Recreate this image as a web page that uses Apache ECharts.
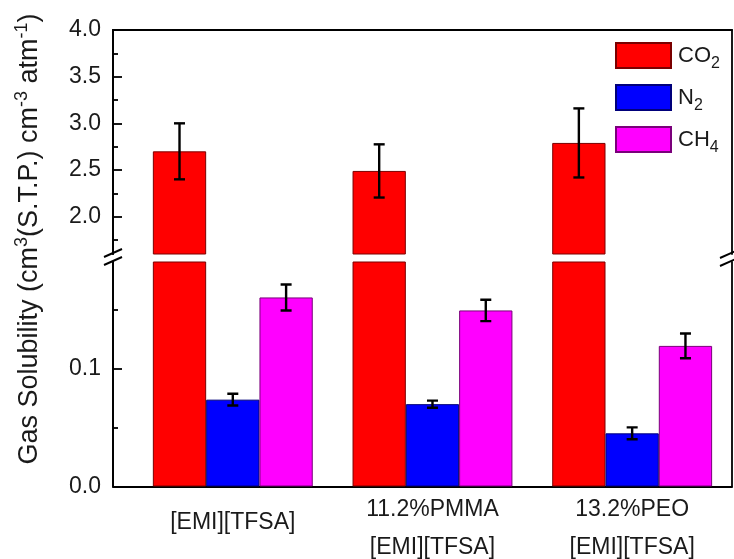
<!DOCTYPE html>
<html>
<head>
<meta charset="utf-8">
<script src="https://cdn.jsdelivr.net/npm/echarts@6/dist/echarts.min.js"></script>
<style>
  html, body { margin: 0; padding: 0; background: #fff; }
  #chart { width: 734px; height: 559px; }
</style>
</head>
<body>
<div id="chart"></div>
<script>
// Sample groups and their positions on the x axis
const categories = ['[EMI][TFSA]', '11.2%PMMA\n[EMI][TFSA]', '13.2%PEO\n[EMI][TFSA]'];
const categoryPos = [1, 2, 3];

// Gas solubility values and standard deviations
const gasNames = ['CO2', 'N2', 'CH4'];
const co2 = [2.70, 2.49, 2.79];
const co2Err = [0.30, 0.285, 0.37];
const n2 = [0.0735, 0.0697, 0.045];
const n2Err = [0.005, 0.003, 0.005];
const ch4 = [0.160, 0.149, 0.119];
const ch4Err = [0.011, 0.009, 0.0105];

// Tick values for the two segments of the broken y axis
const upperMajorTicks = [2.0, 2.5, 3.0, 3.5, 4.0];
const upperMinorTicks = [1.75, 2.25, 2.75, 3.25, 3.75];
const lowerMajorTicks = [0.0, 0.1];
const lowerMinorTicks = [0.05, 0.15];

const colors = ['#ff0000', '#0000ff', '#ff00ff'];
const borders = ['#7a0000', '#00007a', '#7a007a'];
const BAR_W = 53.3;
const FONT = '"Liberation Sans", Arial, sans-serif';
const TXT = '#1a1a1a';

const chart = echarts.init(document.getElementById('chart'), null, { renderer: 'canvas' });

const values = [co2, n2, ch4];
const errors = [co2Err, n2Err, ch4Err];

const gridLeft = 113, gridRight = 2;
const grids = [
  { left: gridLeft, right: gridRight, top: 30, height: 224 },
  { left: gridLeft, right: gridRight, top: 262, bottom: 72 }
];

const axisLine = { show: true, lineStyle: { color: '#000', width: 1.8 } };

const xAxes = [
  { type: 'value', gridIndex: 0, min: 0.4, max: 3.5, position: 'top',
    axisLine, axisTick: { show: false }, axisLabel: { show: false }, splitLine: { show: false } },
  { type: 'value', gridIndex: 1, min: 0.4, max: 3.5, position: 'bottom',
    axisLine, axisTick: { show: false }, splitLine: { show: false },
    axisLabel: {
      customValues: categoryPos, margin: 4, color: TXT, fontFamily: FONT, fontSize: 23,
      formatter: v => {
        const label = categories[categoryPos.indexOf(v)];
        if (!label) return '';
        const lines = label.split('\n');
        return lines.length === 1 ? '{one|' + label + '}' : lines.map(l => '{two|' + l + '}').join('\n');
      },
      rich: {
        one: { fontSize: 23, lineHeight: 65, fontFamily: FONT, color: TXT },
        two: { fontSize: 23, lineHeight: 38, fontFamily: FONT, color: TXT }
      }
    } }
];

function leftAxis(grid, min, max, ticks, labels, len) {
  return {
    type: 'value', gridIndex: grid, min, max, position: 'left',
    axisLine,
    axisTick: { show: true, inside: true, length: len, customValues: ticks, lineStyle: { color: '#000', width: 1.8 } },
    axisLabel: labels ? { customValues: labels, margin: 12, color: TXT, fontFamily: FONT, fontSize: 23,
      formatter: v => v.toFixed(1) } : { show: false },
    splitLine: { show: false }
  };
}
function rightBorder(grid, min, max) {
  return { type: 'value', gridIndex: grid, min, max, position: 'right',
    axisLine, axisTick: { show: false }, axisLabel: { show: false }, splitLine: { show: false } };
}

const yAxes = [
  leftAxis(0, 1.6, 4.0, upperMajorTicks, upperMajorTicks, 9),
  leftAxis(0, 1.6, 4.0, upperMinorTicks, null, 5),
  rightBorder(0, 1.6, 4.0),
  leftAxis(1, 0, 0.19, lowerMajorTicks, lowerMajorTicks, 9),
  leftAxis(1, 0, 0.19, lowerMinorTicks, null, 5),
  rightBorder(1, 0, 0.19)
];

const series = [];
// Bars: every gas is drawn in both segments; each grid clips to its own range
[0, 1].forEach(g => {
  gasNames.forEach((name, k) => {
    series.push({
      type: 'bar', name, xAxisIndex: g, yAxisIndex: g === 0 ? 0 : 3,
      barWidth: BAR_W, barGap: '0%',
      itemStyle: { color: colors[k], borderColor: borders[k], borderWidth: 1 },
      data: categoryPos.map((x, i) => [x, values[k][i]]),
      clip: true
    });
  });
});

// Error bars (mean ± sd) on top of each bar
[0, 1].forEach(g => {
  gasNames.forEach((name, k) => {
    series.push({
      type: 'custom', name: name + ' sd', xAxisIndex: g, yAxisIndex: g === 0 ? 0 : 3,
      clip: true, z: 5,
      data: categoryPos.map((x, i) => [x, values[k][i] - errors[k][i], values[k][i] + errors[k][i]]),
      renderItem(params, api) {
        const lo = api.coord([api.value(0), api.value(1)]);
        const hi = api.coord([api.value(0), api.value(2)]);
        const x = lo[0] + (k - 1) * BAR_W;
        const cap = 5.5;
        const st = { stroke: '#000', lineWidth: 2.4 };
        return {
          type: 'group',
          children: [
            { type: 'line', shape: { x1: x, y1: hi[1], x2: x, y2: lo[1] }, style: st },
            { type: 'line', shape: { x1: x - cap, y1: hi[1], x2: x + cap, y2: hi[1] }, style: st },
            { type: 'line', shape: { x1: x - cap, y1: lo[1], x2: x + cap, y2: lo[1] }, style: st }
          ]
        };
      }
    });
  });
});

// Axis-break marks on the left and right frame edges
function breakMark(cx, cy) {
  return [-4, 4].map(d => ({
    type: 'line', z: 100,
    shape: { x1: cx - 9, y1: cy + d + 4, x2: cx + 9, y2: cy + d - 4 },
    style: { stroke: '#000', lineWidth: 2 }
  }));
}

const option = {
  animation: false,
  backgroundColor: '#fff',
  grid: grids,
  xAxis: xAxes,
  yAxis: yAxes,
  legend: {
    data: gasNames,
    orient: 'vertical', left: 610, top: 37,
    icon: 'rect', itemWidth: 55, itemHeight: 25, itemGap: 12.5,
    formatter: n => ({ CO2: '{b|CO}{s|2}', N2: '{b|N}{s|2}', CH4: '{b|CH}{s|4}' })[n],
    textStyle: {
      color: TXT, fontFamily: FONT, fontSize: 22, padding: [0, 0, 0, 2],
      rich: {
        b: { fontSize: 22, fontFamily: FONT, color: TXT },
        s: { fontSize: 16, fontFamily: FONT, color: TXT, padding: [16, 0, 0, 0] }
      }
    }
  },
  graphic: [
    {
      type: 'text', x: 30, y: 239, rotation: Math.PI / 2, z: 100,
      style: {
        text: '{n|Gas Solubility (cm}{p|3}{n|(S.T.P.) cm}{p|-3}{n| atm}{p|-1}{n|)}',
        align: 'center', verticalAlign: 'middle',
        rich: {
          n: { fontSize: 27, fontFamily: FONT, fill: TXT },
          p: { fontSize: 18, fontFamily: FONT, fill: TXT, padding: [0, 0, 15, 0] }
        }
      }
    },
    ...breakMark(113, 257),
    ...breakMark(729, 258)
  ],
  series
};

chart.setOption(option);
</script>
</body>
</html>
